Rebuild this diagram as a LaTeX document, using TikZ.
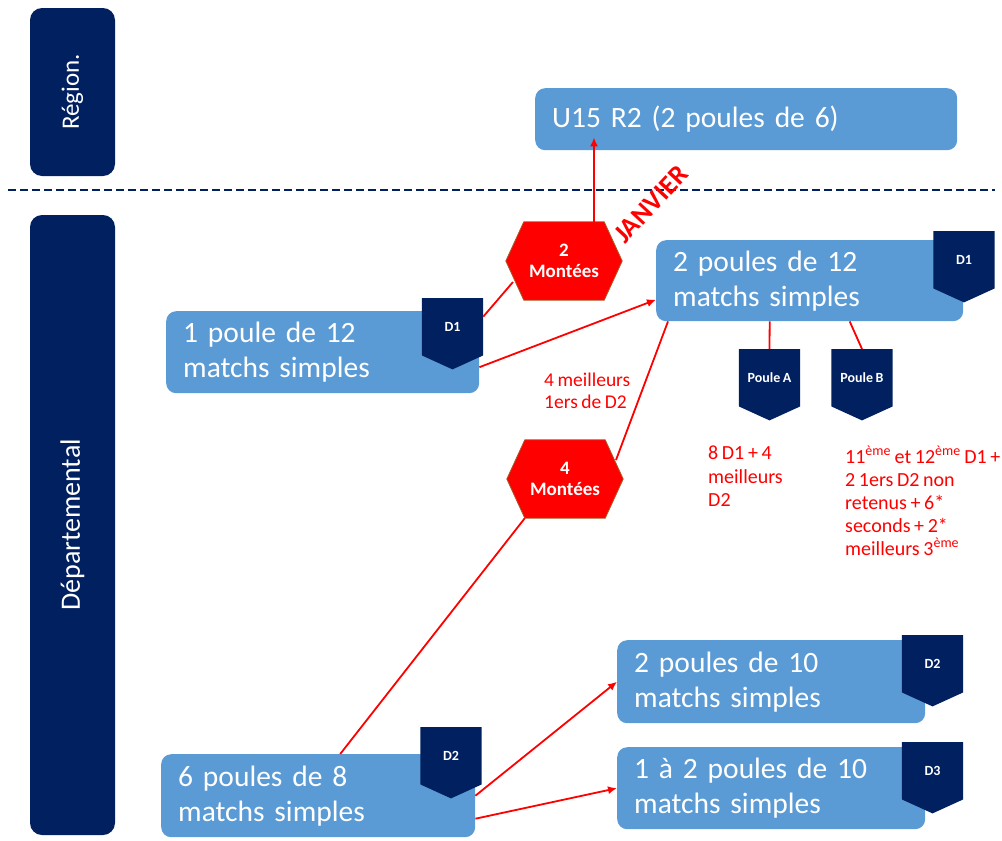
\documentclass[tikz,border=0pt]{standalone}
\usepackage{xcolor}
\usepackage{fontspec}
\setmainfont{Carlito}[WordSpace=0.8]
\usetikzlibrary{calc,arrows.meta}

\definecolor{navy}{HTML}{002060}
\definecolor{boxblue}{HTML}{5B9BD5}
\definecolor{hexborder}{HTML}{A85A28}

\tikzset{
  navybox/.style={fill=navy,text=white,rounded corners=12pt,inner sep=0pt},
  bluebox/.style={fill=boxblue,text=white,rounded corners=10pt,anchor=north west,
    align=left,inner xsep=17pt,inner ysep=0pt,font=\fontsize{29.5}{35}\selectfont},
  badge/.style={anchor=north,minimum width=61pt,minimum height=57pt,inner sep=0pt},
  badgetext/.style={text=white,font=\bfseries\fontsize{14}{16}\selectfont},
  hexbox/.style={minimum width=116pt,minimum height=78pt,inner sep=0pt},
  hextext/.style={text=white,align=center,font=\bfseries\fontsize{19}{21}\selectfont},
  redtext/.style={text=red,anchor=north west,align=left,inner sep=0pt,font=\fontsize{20}{23.5}\selectfont},
  redline/.style={red,line width=1.8pt},
  redarrow/.style={redline,-{Latex[length=9pt,width=8pt]}}
}

% tag under a box: name, top centre, text
\newcommand{\badge}[3]{%
  \node[badge] (#1) at (#2) {};
  \fill[navy] (#1.north west) -- (#1.north east) -- (#1.south east)
    -- ([yshift=-14pt]#1.south) -- (#1.south west) -- cycle;
  \node[badgetext] at (#1) {#3};
}
% red hexagon: name, centre, text
\newcommand{\hexa}[3]{%
  \node[hexbox] (#1) at (#2) {};
  \filldraw[fill=red,draw=hexborder,line width=0.8pt] (#1.west) -- ([xshift=18pt]#1.north west)
    -- ([xshift=-18pt]#1.north east) -- (#1.east) -- ([xshift=-18pt]#1.south east)
    -- ([xshift=18pt]#1.south west) -- cycle;
  \node[hextext] at (#1) {#3};
}

\begin{document}
\begin{tikzpicture}[x=1pt,y=-1pt]
    \useasboundingbox (0,0) rectangle (1002,841);

    %levels
    \node[navybox,rotate=90,minimum width=168pt,minimum height=85pt,font=\fontsize{25}{30}\selectfont] (region) at (72.5,92) {Région.};
    \node[navybox,rotate=90,minimum width=620pt,minimum height=85pt,font=\fontsize{28}{33}\selectfont] (dept) at (72.5,525) {Départemental};
    \draw[navy,line width=2pt,dash pattern=on 8pt off 4pt] (8,190) -- (995,190);

    %boxes
    \node[bluebox,minimum width=422pt,minimum height=62pt,text width=388pt] (u15) at (535,88) {U15 R2 (2 poules de 6)};
    \node[bluebox,minimum width=313pt,minimum height=82pt,text width=279pt] (pouleun) at (166,311) {1 poule de 12\\matchs simples};
    \node[bluebox,minimum width=307pt,minimum height=81pt,text width=273pt] (poulesdouze) at (656,240) {2 poules de 12\\matchs simples};
    \node[bluebox,minimum width=314pt,minimum height=83pt,text width=280pt] (poulessix) at (161,754) {6 poules de 8\\matchs simples};
    \node[bluebox,minimum width=308pt,minimum height=83pt,text width=274pt] (poulesdix) at (617,640) {2 poules de 10\\matchs simples};
    \node[bluebox,minimum width=308pt,minimum height=82pt,text width=274pt] (poulesdixb) at (617,747) {1 à 2 poules de 10\\matchs simples};

    %tags
    \badge{tagun}{452.5,298}{D1}
    \badge{tagdouze}{964,231}{D1}
    \badge{poulea}{769.5,349}{Poule A}
    \badge{pouleb}{862,349}{Poule B}
    \badge{tagsix}{451,727}{D2}
    \badge{tagdix}{932.5,635}{D2}
    \badge{tagdixb}{932.5,742}{D3}

    \hexa{montee2}{564,261}{2\\Montées}
    \hexa{montee4}{565,479}{4\\Montées}

    %links
    \draw[redline] ([yshift=10pt]tagun.east) -- ($(montee2)+(-51,21)$);
    \draw[redarrow] ([xshift=30pt]montee2.north) -- ([xshift=30pt,yshift=13pt]montee2.north |- u15.south);
    \draw[redarrow] ([yshift=-15pt]pouleun.east) -- ([yshift=-19pt]poulesdouze.west);
    \draw[redline] ([xshift=22pt]poulessix.north) -- ([xshift=18pt]montee4.south west);
    \draw[redline] ($(montee4)+(51,-19)$) -- ([xshift=12pt]poulesdouze.south west);
    \draw[redline] ([xshift=-40pt]poulesdouze.south) -- (poulea.north);
    \draw[redline] ([xshift=40pt]poulesdouze.south) -- (pouleb.north);
    \draw[redarrow] (poulessix.east) -- (poulesdix.west);
    \draw[redarrow] ([yshift=-23pt]poulessix.east) -- (poulesdixb.west);

    %notes
    \node[text=red,rotate=47,font=\bfseries\fontsize{27}{30}\selectfont] (janvier) at (651,204) {JANVIER};
    \node[redtext,font=\fontsize{19.5}{21.5}\selectfont] (meilleurs) at (544,373) {4 meilleurs\\1ers de D2};
    \node[redtext] (notea) at (708,446) {8 D1 + 4\\meilleurs\\D2};
    \node[redtext,font=\fontsize{20}{23}\selectfont] (noteb) at (845,446) {11\textsuperscript{ème} et 12\textsuperscript{ème} D1 +\\2 1ers D2 non\\retenus + 6*\\seconds + 2*\\meilleurs 3\textsuperscript{ème}};
\end{tikzpicture}
\end{document}
